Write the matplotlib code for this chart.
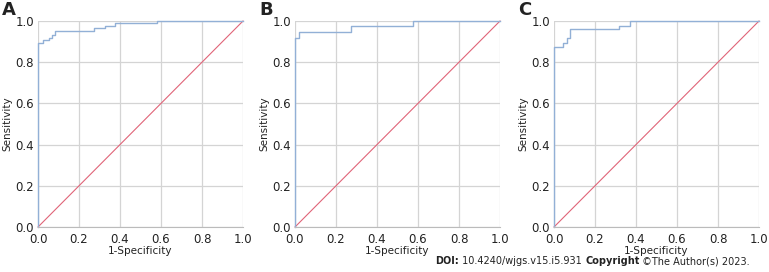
import matplotlib
matplotlib.use("Agg")
import matplotlib.pyplot as plt

# ROC step points (1-specificity, sensitivity)
fpr_a = [0.0, 0.0, 0.022, 0.022, 0.052, 0.052, 0.067, 0.067, 0.082, 0.082,
         0.272, 0.272, 0.326, 0.326, 0.375, 0.375, 0.58, 0.58, 1.0]
tpr_a = [0.0, 0.892, 0.892, 0.908, 0.908, 0.919, 0.919, 0.932, 0.932, 0.953,
         0.953, 0.964, 0.964, 0.977, 0.977, 0.988, 0.988, 1.0, 1.0]

fpr_b = [0.0, 0.0, 0.021, 0.021, 0.273, 0.273, 0.577, 0.577, 1.0]
tpr_b = [0.0, 0.916, 0.916, 0.945, 0.945, 0.976, 0.976, 1.0, 1.0]

fpr_c = [0.0, 0.0, 0.044, 0.044, 0.062, 0.062, 0.08, 0.08, 0.318, 0.318,
         0.37, 0.37, 1.0]
tpr_c = [0.0, 0.872, 0.872, 0.895, 0.895, 0.916, 0.916, 0.96, 0.96, 0.977,
         0.977, 1.0, 1.0]

panels = [("A", fpr_a, tpr_a), ("B", fpr_b, tpr_b), ("C", fpr_c, tpr_c)]
ticks = [0.0, 0.2, 0.4, 0.6, 0.8, 1.0]
lefts = [38, 295, 554]

W, H = 769, 272
fig = plt.figure(figsize=(W / 100, H / 100), dpi=100)

for (label, fx, ty), left in zip(panels, lefts):
    ax = fig.add_axes([left / W, 45 / H, 205 / W, 206 / H])
    ax.set_xlim(0, 1)
    ax.set_ylim(0, 1)
    ax.set_xticks(ticks)
    ax.set_yticks(ticks)
    ax.set_xticklabels([f"{t:.1f}" for t in ticks], fontsize=8.5, color="#222222")
    ax.set_yticklabels([f"{t:.1f}" for t in ticks], fontsize=8.5, color="#222222")
    ax.tick_params(axis="x", length=0, pad=4)
    ax.tick_params(axis="y", length=0, pad=3)
    ax.grid(True, color="#d4d4d4", linewidth=0.9)
    ax.set_axisbelow(True)
    for s in ax.spines.values():
        s.set_visible(False)
    ax.spines["bottom"].set_visible(True)
    ax.spines["bottom"].set_color("#bbbbbb")
    ax.plot([0, 1], [0, 1], color="#e06478", linewidth=0.8, clip_on=False)
    ax.plot(fx, ty, color="#92b0d6", linewidth=1.0, clip_on=False)
    ax.set_xlabel("1-Specificity", fontsize=7.5, labelpad=0, color="#222222")
    ax.set_ylabel("Sensitivity", fontsize=7.5, labelpad=2, color="#222222")
    fig.text((left - 36) / W, 1 - 10 / H, label, fontsize=13, fontweight="bold",
             va="center", ha="left", color="#222222")

# footer, placed right to left
pieces = [(" \u00a9The Author(s) 2023.", "normal"), ("Copyright", "bold"),
          (" 10.4240/wjgs.v15.i5.931 ", "normal"), ("DOI:", "bold")]
fig.canvas.draw()
r = fig.canvas.get_renderer()
x = 750
for txt, wt in pieces:
    t = fig.text(x / W, 1 - 261 / H, txt, fontsize=7, fontweight=wt,
                 ha="right", va="center", color="#222222")
    bb = t.get_window_extent(r)
    x = bb.x0

fig.savefig("out.png", dpi=100)
